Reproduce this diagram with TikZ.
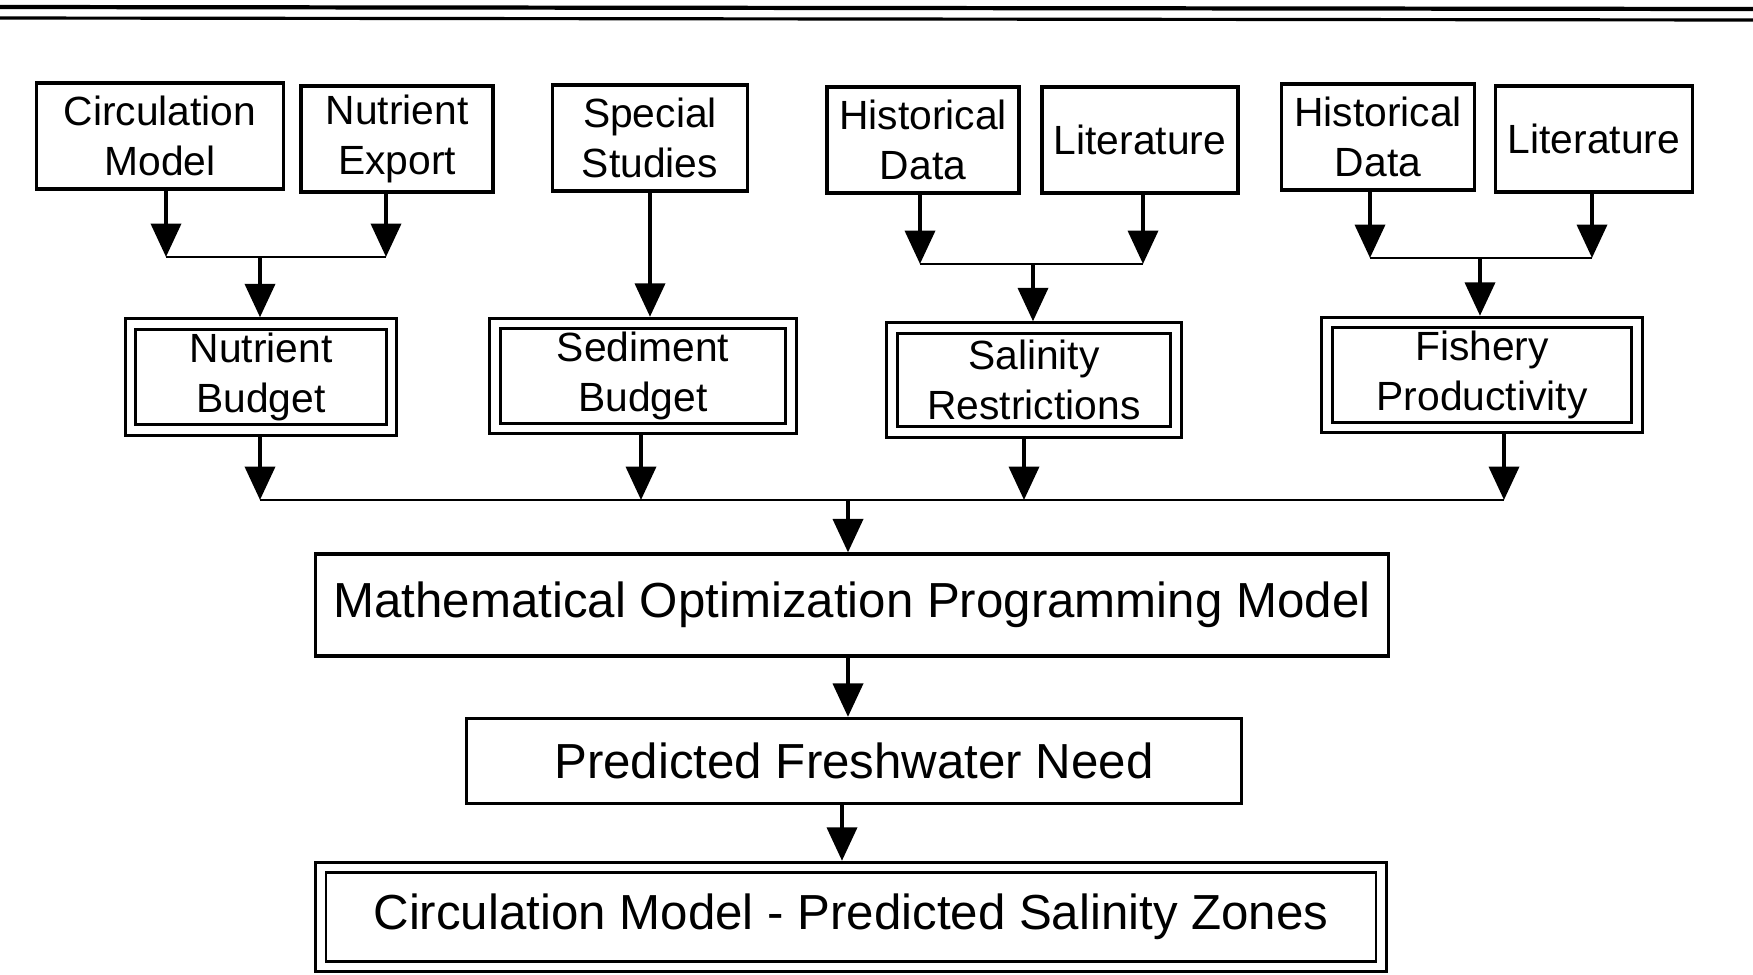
\documentclass[tikz,border=0pt]{standalone}
\usepackage{fontspec}
\setmainfont{Liberation Sans}
\usetikzlibrary{arrows.meta}

\begin{document}
\begin{tikzpicture}
      [x=.01cm,y=-.01cm
      ,box/.style={draw,line width=.9pt,inner sep=0pt,align=center,font=\fontsize{11.6}{14}\selectfont}
      ,dbl/.style={box,double,double distance=2.2pt,line width=.8pt,outer sep=1.9pt}
      ,big/.style={font=\fontsize{14}{17}\selectfont}
      ,arr/.style={line width=1.15pt,-{Triangle[width=8.5pt,length=9.5pt]}}
      ,bar/.style={line width=.8pt}
      ]
        \useasboundingbox (0,0) rectangle (1753,975);
        \draw[line width=1.2pt] (0,7) -- (1753,9);
        \draw[line width=.9pt] (0,18) -- (1753,20);
        % sources
        \node[box,minimum width=2.47cm,minimum height=1.06cm] (cm)  at (160,136)  {Circulation\\Model};
        \node[box,minimum width=1.92cm,minimum height=1.06cm] (ne)  at (397,139)  {Nutrient\\Export};
        \node[box,minimum width=1.95cm,minimum height=1.06cm] (ss)  at (650,138)  {Special\\Studies};
        \node[box,minimum width=1.92cm,minimum height=1.06cm] (hd1) at (923,140)  {Historical\\Data};
        \node[box,minimum width=1.96cm,minimum height=1.06cm] (lt1) at (1140,140) {Literature};
        \node[box,minimum width=1.93cm,minimum height=1.06cm] (hd2) at (1378,137) {Historical\\Data};
        \node[box,minimum width=1.97cm,minimum height=1.06cm] (lt2) at (1594,139) {Literature};
        % budgets
        \node[dbl,minimum width=2.61cm,minimum height=1.06cm] (nb) at (261,377)  {Nutrient\\Budget};
        \node[dbl,minimum width=2.96cm,minimum height=1.05cm] (sb) at (643,376)  {Sediment\\Budget};
        \node[dbl,minimum width=2.84cm,minimum height=1.04cm] (sr) at (1034,380) {Salinity\\Restrictions};
        \node[dbl,minimum width=3.10cm,minimum height=1.05cm] (fp) at (1482,375) {Fishery\\Productivity};
        % model chain
        \node[box,big,minimum width=10.72cm,minimum height=1.02cm] (mo) at (852,605) {Mathematical Optimization Programming Model};
        \node[box,big,minimum width=7.75cm,minimum height=.85cm] (pf) at (854,761) {Predicted Freshwater Need};
        \node[dbl,big,minimum width=10.60cm,minimum height=.99cm] (cz) at (851,917) {Circulation Model - Predicted Salinity Zones};
        \coordinate (j1l) at (166,257);
        \coordinate (j1r) at (386,257);
        \coordinate (j1)  at (260,257);
        \coordinate (j3l) at (920,264);
        \coordinate (j3r) at (1143,264);
        \coordinate (j3)  at (1033,264);
        \coordinate (j4l) at (1370,258);
        \coordinate (j4r) at (1592,258);
        \coordinate (j4)  at (1480,258);
        \coordinate (k1) at (260,500);
        \coordinate (k2) at (641,500);
        \coordinate (k3) at (1024,500);
        \coordinate (k4) at (1504,500);
        \coordinate (km) at (848,500);
        \coordinate (kp) at (842,800);
        \foreach \s/\j in {cm/j1l,ne/j1r,hd1/j3l,lt1/j3r,hd2/j4l,lt2/j4r}{
          \draw[arr] (\s.south -| \j) -- (\j);
        }
        \draw[bar] (j1l) -- (j1r);
        \draw[bar] (j3l) -- (j3r);
        \draw[bar] (j4l) -- (j4r);
        \draw[arr] (j1) -- (nb.north -| j1);
        \draw[arr] (ss.south) -- (sb.north -| ss.south);
        \draw[arr] (j3) -- (sr.north -| j3);
        \draw[arr] (j4) -- (fp.north -| j4);
        \foreach \b/\k in {nb/k1,sb/k2,sr/k3,fp/k4}{
          \draw[arr] (\b.south -| \k) -- (\k);
        }
        \draw[bar] (k1) -- (k4);
        \draw[arr] (km) -- (mo.north -| km);
        \draw[arr] (mo.south -| km) -- (pf.north -| km);
        \draw[arr] (pf.south -| kp) -- (cz.north -| kp);
      \end{tikzpicture}
\end{document}
